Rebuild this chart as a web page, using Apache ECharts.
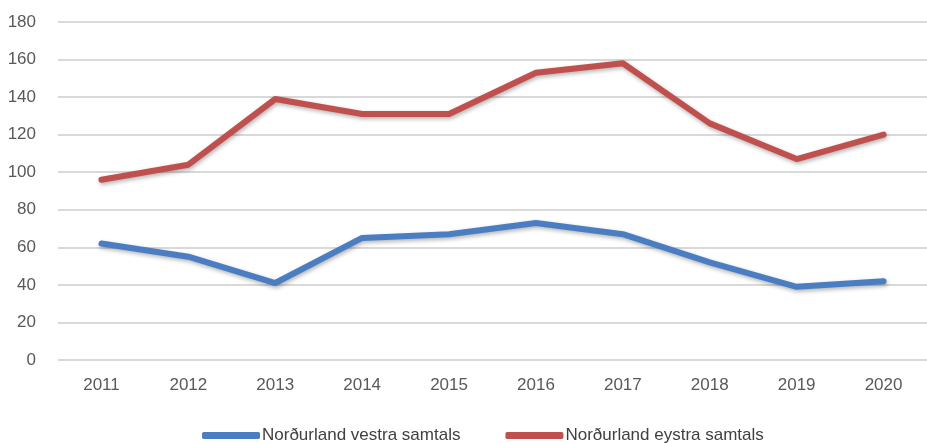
<!DOCTYPE html>
<html>
<head>
<meta charset="utf-8">
<script src="https://cdn.jsdelivr.net/npm/echarts@6/dist/echarts.min.js"></script>
<style>
  html, body { margin: 0; padding: 0; background: #fff; }
  #chart { width: 927px; height: 443px; }
</style>
</head>
<body>
<div id="chart"></div>
<script>
// years on the x axis
const years = ['2011', '2012', '2013', '2014', '2015', '2016', '2017', '2018', '2019', '2020'];
// values
const vestra = [62, 55, 41, 65, 67, 73, 67, 52, 39, 42];
const eystra = [96, 104, 139, 131, 131, 153, 158, 126, 107, 120];
const seriesNames = ['Norðurland vestra samtals', 'Norðurland eystra samtals'];

const blue = '#4a7dc2';
const red = '#c0504d';
const labelFont = '"Liberation Sans Narrow", "Arial Narrow", "Liberation Sans", sans-serif';

const chart = echarts.init(document.getElementById('chart'));

function lineSeries(name, data, color) {
  return {
    name: name,
    type: 'line',
    data: data,
    symbol: 'none',
    lineStyle: {
      width: 6,
      color: color,
      cap: 'round',
      join: 'round',
      shadowColor: 'rgba(0,0,0,0.3)',
      shadowBlur: 4,
      shadowOffsetX: 1,
      shadowOffsetY: 2
    },
    itemStyle: { color: color }
  };
}

chart.setOption({
  animation: false,
  backgroundColor: '#fff',
  grid: { left: 58, top: 22, width: 878, height: 338 },
  legend: {
    top: 422,
    left: 197,
    itemWidth: 58,
    itemHeight: 7,
    itemGap: 45,
    icon: 'roundRect',
    textStyle: { fontFamily: labelFont, fontSize: 17, color: '#404040', padding: [0, 0, 0, -3] },
    data: seriesNames
  },
  xAxis: {
    type: 'category',
    data: years,
    boundaryGap: true,
    axisLine: { show: false },
    axisTick: { show: false },
    axisLabel: { fontFamily: labelFont, fontSize: 17, color: '#595959', margin: 17 }
  },
  yAxis: {
    type: 'value',
    min: 0,
    max: 180,
    interval: 20,
    axisLine: { show: false },
    axisTick: { show: false },
    axisLabel: { fontFamily: labelFont, fontSize: 17, color: '#595959', margin: 22 },
    splitLine: { lineStyle: { color: '#d9d9d9', width: 2 } }
  },
  series: [
    lineSeries(seriesNames[0], vestra, blue),
    lineSeries(seriesNames[1], eystra, red)
  ]
});
</script>
</body>
</html>
